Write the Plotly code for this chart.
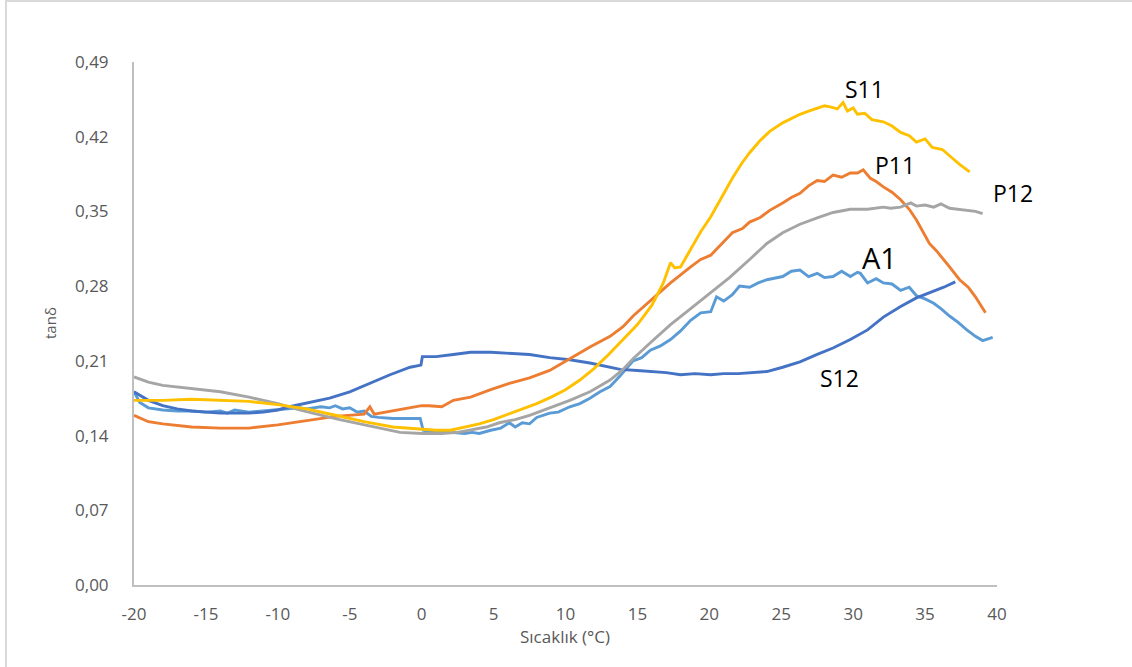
import plotly.graph_objects as go

# Loss factor (tan delta) against temperature for five samples
s11_x = [-20, -18, -16, -14, -12, -10, -8, -6, -4, -2, 0, 1, 2, 3, 4, 5, 6, 7, 8, 9, 10, 11, 12, 13, 14, 15, 16,
         16.8, 17.3, 17.6, 18, 18.7, 19.4, 20.1, 20.8, 21.6, 22.2, 22.8, 23.5, 24.2, 25.1, 25.7, 26.3, 26.9, 27.5,
         28.0, 28.4, 28.9, 29.3, 29.6, 30.0, 30.3, 30.8, 31.3, 32.1, 32.7, 33.3, 33.9, 34.4, 35.0, 35.5, 36.2,
         36.8, 37.4, 38.1]
s11_y = [0.173, 0.173, 0.174, 0.173, 0.172, 0.169, 0.165, 0.159, 0.153, 0.148, 0.146, 0.145, 0.145, 0.148, 0.151,
         0.155, 0.160, 0.165, 0.170, 0.176, 0.183, 0.192, 0.203, 0.216, 0.230, 0.244, 0.262, 0.283, 0.302, 0.297,
         0.298, 0.315, 0.331, 0.345, 0.362, 0.381, 0.394, 0.405, 0.416, 0.425, 0.433, 0.437, 0.441, 0.444, 0.447,
         0.449, 0.448, 0.446, 0.452, 0.444, 0.447, 0.441, 0.442, 0.436, 0.434, 0.430, 0.424, 0.421, 0.415, 0.418,
         0.410, 0.408, 0.401, 0.394, 0.387]

p11_x = [-20, -19, -18, -16, -14, -12, -10, -8, -6, -4, -3.6, -3.3, -2, -1, 0, 0.5, 1.4, 2.2, 3.4, 4.8, 6.1, 7.5,
         8.9, 10.3, 11.7, 13.1, 14, 14.7, 15.9, 17.3, 18.7, 19.4, 20.1, 20.7, 21.6, 22.3, 22.8, 23.5, 24.2, 25.1,
         25.7, 26.3, 26.9, 27.5, 28.0, 28.6, 29.2, 29.8, 30.3, 30.7, 31.2, 31.6, 32.1, 32.7, 33.3, 33.9, 34.4,
         35.3, 35.8, 36.7, 37.4, 38.0, 38.5, 39.2]
p11_y = [0.159, 0.153, 0.151, 0.148, 0.147, 0.147, 0.150, 0.154, 0.158, 0.160, 0.167, 0.160, 0.163, 0.165, 0.168,
         0.168, 0.167, 0.173, 0.176, 0.183, 0.189, 0.194, 0.201, 0.212, 0.223, 0.233, 0.242, 0.252, 0.266, 0.283,
         0.298, 0.305, 0.309, 0.317, 0.330, 0.334, 0.340, 0.344, 0.351, 0.358, 0.363, 0.367, 0.374, 0.379, 0.378,
         0.384, 0.382, 0.386, 0.386, 0.389, 0.381, 0.378, 0.373, 0.368, 0.361, 0.352, 0.342, 0.320, 0.313, 0.298,
         0.286, 0.279, 0.270, 0.255]

p12_x = [-20, -19, -18, -16, -14, -12, -10, -8.5, -7, -5.7, -4.3, -2.9, -1.5, 0, 1.4, 2.5, 3.4, 4.5, 5.4, 6.5,
         7.5, 8.9, 10.3, 11.7, 13.1, 14, 14.7, 15.9, 17.3, 18.7, 20.1, 21.4, 22.8, 24, 25.1, 26.3, 27.5, 28.6,
         29.8, 31, 32.1, 32.6, 33.3, 34, 34.4, 35, 35.6, 36.1, 36.7, 37.3, 37.9, 38.5, 39]
p12_y = [0.195, 0.190, 0.187, 0.184, 0.181, 0.176, 0.170, 0.164, 0.159, 0.155, 0.151, 0.147, 0.143, 0.142, 0.142,
         0.143, 0.145, 0.148, 0.152, 0.155, 0.159, 0.166, 0.173, 0.181, 0.192, 0.202, 0.212, 0.227, 0.244, 0.259,
         0.274, 0.288, 0.305, 0.320, 0.330, 0.338, 0.344, 0.349, 0.352, 0.352, 0.354, 0.353, 0.354, 0.358, 0.355,
         0.356, 0.354, 0.357, 0.353, 0.352, 0.351, 0.350, 0.348]

a1_x = [-20, -19.6, -19, -18, -17, -16, -15, -14, -13.5, -13, -12, -11, -10, -9, -8.5, -8, -7, -6.4, -6, -5.5,
        -5, -4.5, -4, -3.5, -3, -2, -1, -0.1, 0.1, 1, 2, 3, 3.5, 4, 4.8, 5.5, 6.1, 6.5, 7, 7.5, 8, 8.9, 9.5,
        10.3, 11, 11.7, 12.4, 13.1, 13.8, 14.7, 15.3, 15.9, 16.6, 17.3, 18, 18.7, 19.4, 20.1, 20.5, 21, 21.6,
        22.1, 22.8, 23.4, 24, 24.6, 25.1, 25.7, 26.3, 26.9, 27.5, 28, 28.6, 29.2, 29.8, 30.3, 30.5, 31, 31.6,
        32.1, 32.7, 33.3, 33.9, 34.4, 35, 35.6, 36.1, 36.7, 37.3, 37.9, 38.5, 39, 39.7]
a1_y = [0.181, 0.171, 0.166, 0.164, 0.163, 0.163, 0.162, 0.163, 0.161, 0.164, 0.162, 0.163, 0.164, 0.165, 0.166,
        0.165, 0.167, 0.166, 0.168, 0.165, 0.166, 0.162, 0.163, 0.158, 0.157, 0.156, 0.156, 0.156, 0.145, 0.143,
        0.143, 0.142, 0.143, 0.142, 0.145, 0.147, 0.152, 0.148, 0.152, 0.151, 0.157, 0.161, 0.162, 0.167, 0.170,
        0.175, 0.181, 0.186, 0.196, 0.210, 0.213, 0.220, 0.224, 0.230, 0.238, 0.248, 0.255, 0.256, 0.270, 0.266,
        0.272, 0.280, 0.279, 0.283, 0.286, 0.288, 0.289, 0.294, 0.295, 0.289, 0.292, 0.288, 0.289, 0.294, 0.289,
        0.293, 0.292, 0.283, 0.287, 0.283, 0.282, 0.276, 0.279, 0.271, 0.268, 0.264, 0.259, 0.252, 0.246, 0.239,
        0.233, 0.229, 0.232, 0.223]

s12_x = [-20, -19, -18, -17, -16, -15, -14, -13, -12, -11, -10, -9.2, -7.8, -6.4, -5, -3.6, -2.2, -0.8, -0.05,
         0.05, 1, 2.2, 3.4, 4.8, 6.1, 7.5, 8.9, 10.3, 11.7, 13.1, 13.8, 15, 15.9, 17, 18, 19, 20.1, 21, 22, 22.8,
         24, 25.1, 26.3, 27.5, 28.6, 29.8, 31, 32.1, 33.3, 34.4, 35.6, 36.3, 37.1]
s12_y = [0.181, 0.173, 0.168, 0.165, 0.163, 0.162, 0.161, 0.161, 0.161, 0.162, 0.164, 0.167, 0.171, 0.175, 0.181,
         0.189, 0.197, 0.204, 0.206, 0.214, 0.214, 0.216, 0.218, 0.218, 0.217, 0.216, 0.213, 0.211, 0.208, 0.204,
         0.202, 0.201, 0.200, 0.199, 0.197, 0.198, 0.197, 0.198, 0.198, 0.199, 0.200, 0.204, 0.209, 0.216, 0.222,
         0.230, 0.239, 0.251, 0.261, 0.269, 0.275, 0.279, 0.284]

x_ticks = [-20, -15, -10, -5, 0, 5, 10, 15, 20, 25, 30, 35, 40]
x_tick_text = ["-20", "-15", "-10", "-5", "0", "5", "10", "15", "20", "25", "30", "35", "40"]
y_ticks = [0.00, 0.07, 0.14, 0.21, 0.28, 0.35, 0.42, 0.49]

series = [
    ("A1", a1_x, a1_y, "#5B9BD5"),
    ("S12", s12_x, s12_y, "#4472C4"),
    ("P11", p11_x, p11_y, "#ED7D31"),
    ("P12", p12_x, p12_y, "#A5A5A5"),
    ("S11", s11_x, s11_y, "#FFC000"),
]

fig = go.Figure()
for name, xs, ys, color in series:
    fig.add_trace(go.Scatter(x=xs, y=ys, name=name, mode="lines",
                             line=dict(color=color, width=2.9)))

# Series labels placed beside the curves
labels = [
    ("S11", 864, 89, 23),
    ("P11", 895, 165, 23),
    ("P12", 1013, 193, 23),
    ("A1", 879, 257, 29),
    ("S12", 839, 378, 23),
]
L, R, T, B = 134, 997, 62, 585
W, H = 1132, 667


def px_x(p):
    return (p - L) / (R - L)


def px_y(p):
    return (B - p) / (B - T)


annotations = []
for text, lx, ly, size in labels:
    annotations.append(dict(text=text, x=px_x(lx), y=px_y(ly), xref="paper", yref="paper",
                            showarrow=False, xanchor="center", yanchor="middle",
                            font=dict(family="Open Sans", size=size, color="#000000")))

annotations.append(dict(text="Sıcaklık (°C)", x=px_x(565), y=px_y(636), xref="paper", yref="paper",
                        showarrow=False, xanchor="center", yanchor="middle",
                        font=dict(family="Open Sans", size=17, color="#595959")))
annotations.append(dict(text="tanδ", x=px_x(50), y=px_y(323), xref="paper", yref="paper",
                        showarrow=False, xanchor="center", yanchor="middle", textangle=-90,
                        font=dict(family="Open Sans", size=15, color="#595959")))

fig.update_layout(
    width=W, height=H,
    margin=dict(l=L, r=W - R, t=T, b=H - B, pad=0),
    paper_bgcolor="white", plot_bgcolor="white",
    separators=",.",
    showlegend=False,
    annotations=annotations,
    shapes=[dict(type="rect", xref="paper", yref="paper",
                 x0=px_x(6), y0=px_y(1), x1=px_x(1200), y1=px_y(720),
                 line=dict(color="#D9D9D9", width=2), fillcolor="rgba(0,0,0,0)", layer="below")],
    xaxis=dict(range=[-20, 40], tickvals=x_ticks, ticktext=x_tick_text, showgrid=False, zeroline=False,
               showline=True, linecolor="#BFBFBF", linewidth=2, ticks="",
               ticklabelstandoff=13,
               tickfont=dict(family="Open Sans", size=17, color="#595959")),
    yaxis=dict(range=[0, 0.49], tickvals=y_ticks, tickformat=".2f", showgrid=False, zeroline=False,
               showline=True, linecolor="#BFBFBF", linewidth=2, ticks="",
               ticklabelstandoff=20,
               tickfont=dict(family="Open Sans", size=17, color="#595959")),
)

fig.write_html("out.html")
